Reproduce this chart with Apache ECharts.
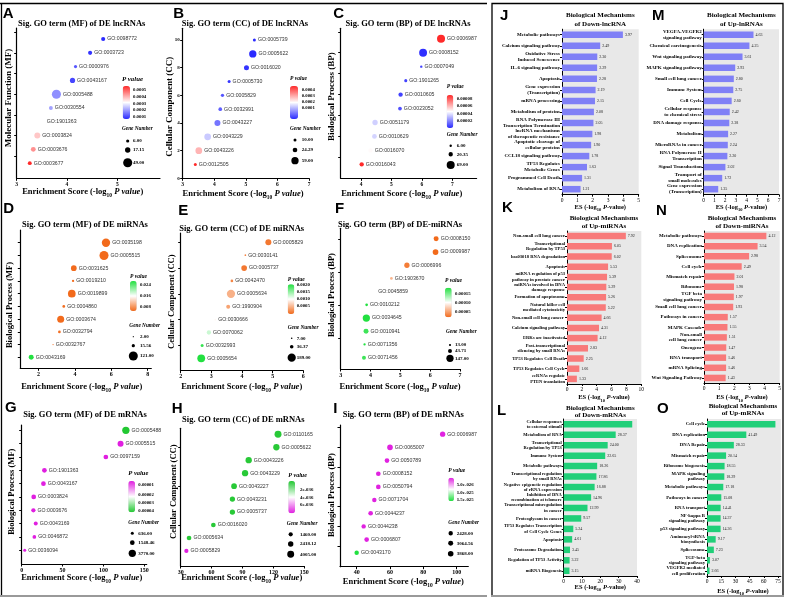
<!DOCTYPE html>
<html><head><meta charset="utf-8">
<script src="https://cdn.jsdelivr.net/npm/echarts@6/dist/echarts.min.js"></script>
<style>html,body{margin:0;padding:0;background:#fff;}#chart{width:787px;height:601px;}</style>
</head><body><div id="chart"></div>
<script>
// ================= DATA =================
const A_terms = ['GO:0098772','GO:0003723','GO:0000976','GO:0043167','GO:0005488','GO:0030554','GO:1901363','GO:0003824','GO:0003676','GO:0003677'];
const A_es = [4.72,4.46,4.17,4.11,3.79,3.68,3.50,3.41,3.33,3.26];
const A_genes = [10,10,6,16,49,9,21,21,14,9];
const A_p = [0.00007,0.00008,0.00012,0.0001,0.00018,0.0002,0.0003,0.00036,0.00042,0.00053];
const A_pLeg = ['0.0005','0.0004','0.0003','0.0002','0.0001'];
const A_gLeg = [6.00,17.15,49.00];

const B_terms = ['GO:0005739','GO:0005622','GO:0016020','GO:0005730','GO:0005829','GO:0032991','GO:0043227','GO:0043229','GO:0043226','GO:0012505'];
const B_es = [5.27,5.22,5.02,4.47,4.26,4.19,4.10,3.79,3.51,3.40];
const B_genes = [10,59,28,10,12,15,40,50,50,10];
const B_p = [0.00003,0.00003,0.00004,0.00004,0.00007,0.00008,0.0001,0.00018,0.0003,0.00043];
const B_pLeg = ['0.0004','0.0003','0.0002','0.0001'];
const B_gLeg = [10.00,24.29,59.00];

const C_terms = ['GO:0006987','GO:0008152','GO:0007049','GO:1901265','GO:0010605','GO:0023052','GO:0051179','GO:0010629','GO:0016070','GO:0016043'];
const C_es = [6.63,6.04,5.98,5.47,5.30,5.28,4.46,4.44,4.31,4.02];
const C_genes = [69,66,6,10,20,15,30,24,20,20];
const C_p = [0.00009,0.000001,0.000005,0.000005,0.000005,0.000008,0.000035,0.000036,0.000046,0.00009];
const C_pLeg = ['0.00008','0.00006','0.00004','0.00002'];
const C_gLeg = [6.00,20.35,69.00];

const D_terms = ['GO:0035198','GO:0005515','GO:0031625','GO:0019210','GO:0019899','GO:0004860','GO:0003674','GO:0032794','GO:0032767','GO:0043169'];
const D_es = [5.71,5.60,3.94,3.90,3.83,3.39,3.22,3.15,2.80,1.60];
const D_genes = [103,121,48,8,88,11,73,11,2,37];
const D_p = [0.0045,0.0045,0.0046,0.0047,0.0045,0.0048,0.0046,0.0049,0.005,0.027];
const D_pLeg = ['0.024','0.016','0.008'];
const D_gLeg = [2.00,15.56,121.00];

const E_terms = ['GO:0005829','GO:0030141','GO:0005737','GO:0042470','GO:0005634','GO:1990904','GO:0030666','GO:0070062','GO:0032993','GO:0005654'];
const E_es = [4.86,4.11,4.07,3.67,3.64,3.55,3.13,2.92,2.70,2.67];
const E_genes = [100,8,90,20,189,44,8,52,25,170];
const E_p = [0.0001,0.0002,0.0001,0.0002,0.0005,0.0004,0.001,0.0013,0.002,0.0021];
const E_pLeg = ['0.0020','0.0015','0.0010','0.0005'];
const E_gLeg = [7.00,36.37,189.00];

const F_terms = ['GO:0008150','GO:0009987','GO:0006996','GO:1903670','GO:0045859','GO:0010212','GO:0034645','GO:0010941','GO:0071356','GO:0071456'];
const F_es = [6.20,6.18,5.22,4.70,4.12,3.87,3.86,3.85,3.80,3.78];
const F_genes = [69,90,78,20,51,20,147,69,15,44];
const F_p = [0.00002,0.00002,0.00003,0.00006,0.0001,0.00018,0.00018,0.00017,0.00018,0.00017];
const F_pLeg = ['0.00015','0.00010','0.00005'];
const F_gLeg = [13.00,43.71,147.00];

const G_terms = ['GO:0005488','GO:0005515','GO:0097159','GO:1901363','GO:0043167','GO:0003824','GO:0003676','GO:0043169','GO:0046872','GO:0036094'];
const G_es = [127.5,121,103,27.8,26.6,14.7,14.3,17.2,15.5,3.7];
const G_genes = [3770,2540,1560,1560,1560,1560,1300,1130,970,636];
const G_p = [0.000042,0.000005,0.000005,0.000005,0.000005,0.000005,0.000005,0.000005,0.000005,0.000005];
const G_pLeg = ['0.00001','0.00002','0.00003','0.00004'];
const G_gLeg = [636.00,1548.46,3770.00];

const H_terms = ['GO:0110165','GO:0005622','GO:0043226','GO:0043229','GO:0043227','GO:0043231','GO:0005737','GO:0016020','GO:0005634','GO:0005829'];
const H_es = [124.5,122.9,96.0,92.5,81.8,80.2,80.2,61.7,38.1,35.5];
const H_genes = [4005,3300,3300,3300,2680,2330,2330,1800,1800,1460];
const H_p = [1e-37,1e-37,1e-37,1e-37,1e-37,1e-37,1e-37,1e-37,1e-37,8e-36];
const H_pLeg = ['2e-036','4e-036','6e-036'];
const H_gLeg = [1460.00,2418.12,4005.00];

const I_terms = ['GO:0006987','GO:0065007','GO:0050789','GO:0008152','GO:0050794','GO:0071704','GO:0044237','GO:0044238','GO:0006807','GO:0043170'];
const I_es = [91.6,60.0,58.2,53.0,53.0,50.6,48.4,44.2,46.0,40.0];
const I_genes = [3470,3868,2700,2700,2700,2428,2700,2428,2700,2428];
const I_p = [1e-27,1e-27,1e-27,1e-27,1e-27,1e-27,1e-27,1e-27,1e-27,1.62e-25];
const I_pLeg = ['5.0e-026','1.0e-025','1.5e-025'];
const I_gLeg = [2428.00,3064.56,3868.00];

const J_terms = ['Metabolic pathways','Calcium signaling pathway','Oxidative Stress\nInduced Senescence','IL-6 signaling pathway','Apoptosis','Gene expression\n(Transcription)','mRNA processing','Metabolism of proteins','RNA Polymerase III\nTranscription Termination','lncRNA mechanisms\nof therapeutic resistance','Apoptotic cleavage of\ncellular proteins','CCL18 signaling pathway','TP53 Regulates\nMetabolic Genes','Programmed Cell Death','Metabolism of RNA'];
const J_es = [3.97,2.49,2.30,2.29,2.28,2.19,2.15,2.08,2.05,1.98,1.90,1.78,1.63,1.31,1.21];

const M_terms = ['VEGFA-VEGFR2\nsignaling pathway','Chemical carcinogenesis','Wnt signaling pathway','MAPK signaling pathway','Small cell lung cancer','Immune System','Cell Cycle','Cellular response\nto chemical stress','DNA damage response','Metabolism','MicroRNAs in cancer','RNA Polymerase II\nTranscription','Signal Transduction','Transport of\nsmall molecules','Gene expression\n(Transcription)'];
const M_es = [4.63,4.25,3.61,2.93,2.80,2.75,2.60,2.42,2.38,2.27,2.24,2.20,2.02,1.72,1.35];

const K_terms = ['Non-small cell lung cancer','Transcriptional\nRegulation by TP53','hsa03018 RNA degradation','Apoptosis','miRNA regulation of p53\npathway in prostate cancer','miRNAs involved in DNA\ndamage response','Formation of apoptosome','Natural killer cell\nmediated cytotoxicity','Non-small cell lung cancer ','Calcium signaling pathway','ERKs are inactivated','Post-transcriptional\nsilencing by small RNAs','TP53 Regulates Cell Death','TP53 Regulates Cell Cycle','ceRNAs regulate\nPTEN translation'];
const K_es = [7.92,6.05,6.02,5.53,5.39,5.29,5.26,5.22,4.66,4.31,4.12,2.83,2.25,1.66,1.33];

const N_terms = ['Metabolic pathways','DNA replication','Spliceosome','Cell cycle','Mismatch repair','Ribosome','TGF beta\nsignaling pathway','Small cell lung cancer','Pathways in cancer','MAPK Cascade','Non-small\ncell lung cancer','Oncogene','RNA transport','mRNA Splicing','Wnt Signaling Pathway'];
const N_es = [4.12,3.54,2.98,2.49,2.01,1.98,1.97,1.93,1.57,1.55,1.51,1.47,1.46,1.46,1.43];

const L_terms = ['Cellular responses\nto external stimuli','Metabolism of RNA','Transcriptional\nRegulation by TP53','Immune System','Metabolic pathways','Transcriptional regulation\nby small RNAs','Negative epigenetic regulation\nof rRNA expression','Inhibition of DNA\nrecombination at telomere','Transcriptional misregulation\nin cancer','Proteoglycans in cancer','TP53 Regulates Transcription\nof Cell Cycle Genes','Apoptosis','Proteasome Degradation','Regulation of TP53 Activity','miRNA Biogenesis'];
const L_es = [37.4,28.37,24.00,22.65,18.26,17.86,16.88,14.96,12.99,9.57,5.24,4.61,3.45,3.22,3.15];

const O_terms = ['Cell cycle','DNA replication','DNA Repair','Mismatch repair','Ribosome biogenesis','MAPK signaling\npathway','Metabolic pathways','Pathways in cancer','RNA transport','NF-kappa B\nsignaling pathway','p53 signaling pathway','Aminoacyl-tRNA\nbiosynthesis','Spliceosome','TGF-beta\nsignaling pathway','VEGFR2 mediated\ncell proliferation'];
const O_es = [72.2,41.49,28.33,20.14,18.55,18.29,17.18,15.08,14.41,14.37,14.36,9.17,7.23,3.07,2.66];

// ================= STYLE / LAYOUT =================
const SER = 'Liberation Serif', SANS = 'Liberation Sans';
const C_BLUE='#2a2aff', C_RED='#ff2a2a', C_OR='#f26a1b', C_GR='#22e040', C_MAG='#e01fe0', C_GR2='#22c832';
const C_PER='#8080f6', C_SAL='#f87a7a', C_GRN='#20cf78';
const T15 = [1.5,3,4.5,6,7.5,9,10.5], T1 = [1,2,3,4,5,6,7,8,9,10];

const SC = [
 {L:'A',lx:2.7,ly:6,title:'Sig. GO term (MF) of DE lncRNAs',tx:81.7,ty:23.3,yt:'Molecular Function (MF)',ytx:9,yty:98,xtx:82.7,xty:193,
  g:{left:16.7,top:28,width:143.3,height:150.3},xMin:3,xMax:5.85,xT:[3,4,5],yMin:-0.1,yMax:10.8,yT:T15,yLab:false,k:1.3,
  terms:A_terms,es:A_es,genes:A_genes,p:A_p,pLeg:A_pLeg,gLeg:A_gLeg,
  vm:{min:0.00007,max:0.00053,inv:false,colors:[C_BLUE,'#ffffff',C_RED],x:122.7,y:86,w:7.3,h:33},
  pt:{x:122,y:79,fs:6.8},pl:{x:133,ys:[90,96.7,103.3,110,116.7]},gt:{x:122,y:129},gl:{cx:127.7,lx:133,ys:[141,150,162.7]}},
 {L:'B',lx:173.3,ly:6,title:'Sig. GO term (CC) of DE lncRNAs',tx:245,ty:23.3,yt:'Cellular Component (CC)',ytx:170,yty:106.7,xtx:243,xty:195,
  g:{left:182.7,top:28.3,width:126.3,height:150},xMin:3,xMax:7,xT:[3,4,5,6,7],yMin:0,yMax:10.85,yT:[0,2,4,6,8,10],yLab:true,k:0.95,
  terms:B_terms,es:B_es,genes:B_genes,p:B_p,pLeg:B_pLeg,gLeg:B_gLeg,
  vm:{min:0.00003,max:0.00043,inv:false,colors:[C_BLUE,'#ffffff',C_RED],x:290,y:86,w:8,h:33},
  pt:{x:290,y:79,fs:5.5},pl:{x:301.7,ys:[89.3,95.3,101.7,107.7]},gt:{x:290,y:129},gl:{cx:295,lx:301.7,ys:[140,150,160.7]}},
 {L:'C',lx:333.3,ly:6,title:'Sig. GO term (BP) of DE lncRNAs',tx:408,ty:23.3,yt:'Biological Process (BP)',ytx:331.7,yty:96.7,xtx:401.7,xty:195,
  g:{left:340.7,top:28.3,width:135.9,height:150},xMin:3.33,xMax:7.8,xT:[4,5,6,7],yMin:0,yMax:10.75,yT:T15,yLab:false,k:0.97,
  terms:C_terms,es:C_es,genes:C_genes,p:C_p,pLeg:C_pLeg,gLeg:C_gLeg,
  vm:{min:0,max:0.00009,inv:false,colors:[C_BLUE,'#ffffff',C_RED],x:446.7,y:95,w:6.6,h:33},
  pt:{x:446.7,y:87,fs:5.5},pl:{x:456.7,ys:[98.7,106,113.3,120.7]},gt:{x:446.7,y:135},gl:{cx:450.7,lx:456.7,ys:[145.7,154.3,165]}},
 {L:'D',lx:3.3,ly:201,title:'Sig. GO term (MF) of DE miRNAs',tx:85,ty:224.3,yt:'Biological Process (MF)',ytx:10,yty:305,xtx:81.7,xty:387.7,
  g:{left:20.3,top:230,width:131,height:138.3},xMin:1,xMax:8.2,xT:[2,4,6,8],yMin:0.14,yMax:11,yT:T1,yLab:false,k:0.82,
  terms:D_terms,es:D_es,genes:D_genes,p:D_p,pLeg:D_pLeg,gLeg:D_gLeg,
  vm:{min:0.0045,max:0.027,inv:false,colors:[C_OR,'#ffffff',C_GR],x:130,y:281,w:6.7,h:30},
  pt:{x:130,y:276.7,fs:5.5},pl:{x:140,ys:[285,295.7,306.3]},gt:{x:129.3,y:326},gl:{cx:133.3,lx:140,ys:[336.7,345.7,356]}},
 {L:'E',lx:178.3,ly:203,title:'Sig. GO term (CC) of DE miRNAs',tx:241.7,ty:228.3,yt:'Cellular Component (CC)',ytx:171.7,yty:301.7,xtx:241.7,xty:387.7,
  g:{left:180.7,top:233,width:122.6,height:137.7},xMin:2,xMax:6,xT:[2,3,4,5,6],yMin:0.04,yMax:10.72,yT:[2,4,6,8,10],yLab:false,k:0.6,
  terms:E_terms,es:E_es,genes:E_genes,p:E_p,pLeg:E_pLeg,gLeg:E_gLeg,
  vm:{min:0,max:0.0021,inv:false,colors:[C_OR,'#ffffff',C_GR],x:287.7,y:284.3,w:6.6,h:29.7},
  pt:{x:287.7,y:280,fs:5.5},pl:{x:296.7,ys:[285,292,298.7,306]},gt:{x:287.7,y:327.7},gl:{cx:291.7,lx:296.7,ys:[338.3,346.7,357.7]}},
 {L:'F',lx:335,ly:201,title:'Sig. GO term (BP) of DE-miRNAs',tx:400,ty:224.3,yt:'Biological Process (BP)',ytx:331.7,yty:295,xtx:400,xty:387.7,
  g:{left:340.7,top:228.3,width:119.3,height:140.7},xMin:3,xMax:7,xT:[3,4,5,6,7],yMin:0.14,yMax:10.8,yT:[2.5,5,7.5,10],yLab:false,k:0.6,
  terms:F_terms,es:F_es,genes:F_genes,p:F_p,pLeg:F_pLeg,gLeg:F_gLeg,
  vm:{min:0.00002,max:0.00018,inv:false,colors:[C_OR,'#ffffff',C_GR],x:445,y:287.7,w:6.7,h:29.6},
  pt:{x:445,y:281,fs:5.5},pl:{x:455,ys:[293.3,302.7,311.7]},gt:{x:446,y:331.7},gl:{cx:450,lx:455,ys:[345,351,358.3]}},
 {L:'G',lx:5,ly:400,title:'Sig. GO term (MF) of DE mRNAs',tx:85,ty:415,yt:'Biological Process (MF)',ytx:11.7,yty:491.7,xtx:81.7,xty:579.3,
  g:{left:21.7,top:425,width:125,height:139},xMin:0,xMax:153,xT:[0,50,100,150],yMin:-0.03,yMax:10.4,yT:T1,yLab:false,k:0.119,
  terms:G_terms,es:G_es,genes:G_genes,p:G_p,pLeg:G_pLeg,gLeg:G_gLeg,
  vm:{min:0.000005,max:0.000042,inv:true,colors:[C_MAG,'#ffffff',C_GR2],x:128.3,y:481,w:6.7,h:31.3},
  pt:{x:128.3,y:473,fs:6.5},pl:{x:138.3,ys:[485,494.3,502.7,510.7]},gt:{x:128.3,y:522.7},gl:{cx:132.3,lx:138.3,ys:[533.3,542.7,553.3]}},
 {L:'H',lx:171.7,ly:401,title:'Sig. GO term (CC) of DE mRNAs',tx:243.3,ty:420,yt:'Cellular Component (CC)',ytx:173.3,yty:491.7,xtx:241.7,xty:579.3,
  g:{left:180.7,top:428.3,width:123.6,height:137.7},xMin:30,xMax:150,xT:[30,60,90,120,150],yMin:-0.16,yMax:10.46,yT:[3,6,9],yLab:false,k:0.11,
  terms:H_terms,es:H_es,genes:H_genes,p:H_p,pLeg:H_pLeg,gLeg:H_gLeg,
  vm:{min:0,max:8e-36,inv:true,colors:[C_GR2,'#ffffff',C_MAG],x:288.3,y:481,w:6.7,h:32.3},
  pt:{x:288.3,y:475,fs:6},pl:{x:300,ys:[490,497.7,505]},gt:{x:286.7,y:523.3},gl:{cx:290.7,lx:300,ys:[534.3,544,554.3]}},
 {L:'I',lx:333.3,ly:401,title:'Sig. GO term (BP) of DE mRNAs',tx:403.3,ty:415,yt:'Biological Process (BP)',ytx:331.7,yty:495,xtx:403.3,xty:582.7,
  g:{left:340,top:425,width:128.3,height:141.7},xMin:30,xMax:107,xT:[40,60,80,100],yMin:-0.06,yMax:10.7,yT:T15,yLab:false,k:0.09,
  terms:I_terms,es:I_es,genes:I_genes,p:I_p,pLeg:I_pLeg,gLeg:I_gLeg,
  vm:{min:0,max:1.62e-25,inv:true,colors:[C_MAG,'#ffffff',C_GR],x:448.3,y:477.7,w:5.7,h:23.3},
  pt:{x:448.3,y:471,fs:5.5},pl:{x:456.7,ys:[485,492.7,499.3]},gt:{x:448.3,y:522.7},gl:{cx:450.7,lx:456.7,ys:[533.3,543.3,553.7]}}
];

const BP = [
 {L:'J',lx:500,ly:8,terms:J_terms,es:J_es,color:C_PER,g:{left:562,top:29.2,width:76.7,height:165.5},xMax:5,xT:[0,1,2,3,4,5],t2:'of Down-lncRNA',tx:600.3,ty1:15,ty2:24,aty:208.3,lfs:5,llh:6},
 {L:'M',lx:652,ly:8,terms:M_terms,es:M_es,color:C_PER,g:{left:703.7,top:29.2,width:75.3,height:165.5},xMax:7,xT:[0,1,2,3,4,5,6,7],t2:'of Up-lnRNAs',tx:741.4,ty1:15,ty2:24,aty:208.3,lfs:5,llh:6},
 {L:'K',lx:502,ly:200,terms:K_terms,es:K_es,color:C_SAL,g:{left:567,top:231,width:74.3,height:153},xMax:10,xT:[0,2,4,6,8,10],t2:'of Up-miRNAs',tx:604,ty1:218.3,ty2:225.7,aty:398.5,lfs:4.6,llh:5.5},
 {L:'N',lx:656,ly:203,terms:N_terms,es:N_es,color:C_SAL,g:{left:704,top:231,width:75.7,height:152},xMax:5,xT:[0,1,2,3,4,5],t2:'of Down-miRNAs',tx:742,ty1:218.3,ty2:225.7,aty:398.5,lfs:5,llh:5.5},
 {L:'L',lx:497,ly:403,terms:L_terms,es:L_es,color:C_GRN,g:{left:563.7,top:419,width:73.3,height:157},xMax:40,xT:[0,10,20,30,40],t2:'of Down-mRNAs',tx:600.3,ty1:408.3,ty2:415.5,aty:588,lfs:4.5,llh:5.3},
 {L:'O',lx:657,ly:401,terms:O_terms,es:O_es,color:C_GRN,g:{left:707,top:419,width:73.9,height:157},xMax:78,xT:[0,15,30,45,60,75],t2:'of Up-mRNAs',tx:743,ty1:406,ty2:413.5,aty:592,lfs:4.7,llh:5.3}
];

// ================= BUILD =================
const GR = [];
function txt(x, y, text, font, align, va, rot) {
  GR.push({type:'text', x:x, y:y, rotation:rot||0, z:50, silent:true,
    style:{text:text, font:font, fill:'#000', align:align||'center', verticalAlign:va||'middle'}});
}
function rtxt(x, y, text, rich) {
  GR.push({type:'text', x:x, y:y, z:50, silent:true,
    style:{text:text, rich:rich, fill:'#000', align:'center', verticalAlign:'middle'}});
}
function subRich(fs, sfs, pad) {
  return {
    b:{fontFamily:SER, fontWeight:'bold', fontSize:fs, verticalAlign:'bottom', padding:[0,0,pad,0], fill:'#000'},
    s:{fontFamily:SER, fontWeight:'bold', fontSize:sfs, verticalAlign:'bottom', fill:'#000'},
    i:{fontFamily:SER, fontWeight:'bold', fontStyle:'italic', fontSize:fs, verticalAlign:'bottom', padding:[0,0,pad,0], fill:'#000'}
  };
}
const fSer = (fs, st) => (st||'bold') + ' ' + fs + 'px "' + SER + '"';

const option = {animation:false, backgroundColor:'#ffffff', grid:[], xAxis:[], yAxis:[], series:[], visualMap:[], graphic:GR};

SC.forEach((d, i) => {
  option.grid.push(Object.assign({outerBoundsMode:'none', containLabel:false}, d.g));
  option.xAxis.push({gridIndex:i, type:'value', min:d.xMin, max:d.xMax,
    axisLine:{show:true, onZero:false, lineStyle:{color:'#000', width:1.2}},
    axisTick:{show:true, customValues:d.xT, length:2.5, lineStyle:{color:'#000', width:1}},
    axisLabel:{show:true, customValues:d.xT, margin:3, color:'#000', fontFamily:SER, fontWeight:'bold', fontSize:i<3?5.5:6},
    splitLine:{show:false}});
  option.yAxis.push({gridIndex:i, type:'value', min:d.yMin, max:d.yMax,
    axisLine:{show:true, onZero:false, lineStyle:{color:'#000', width:1.2}},
    axisTick:{show:true, customValues:d.yT, length:2.5, lineStyle:{color:'#000', width:1}},
    axisLabel:{show:d.yLab, customValues:d.yT, margin:3, color:'#000', fontFamily:SER, fontWeight:'bold', fontSize:5},
    splitLine:{show:false}});
  const n = d.terms.length, k = d.k;
  option.series.push({type:'scatter', xAxisIndex:i, yAxisIndex:i,
    data:d.terms.map((t, j) => [d.es[j], n - j, d.p[j], d.genes[j], t]),
    symbolSize:v => k * Math.sqrt(v[3]),
    itemStyle:{opacity:1}, emphasis:{disabled:true},
    label:{show:true, position:'right', distance:2, formatter:p => p.value[4], fontFamily:SANS, fontSize:5.2, color:'#333'}});
  option.visualMap.push({type:'continuous', seriesIndex:i, dimension:2, min:d.vm.min, max:d.vm.max, inverse:d.vm.inv,
    inRange:{color:d.vm.colors}, left:d.vm.x, top:d.vm.y, itemWidth:d.vm.w, itemHeight:d.vm.h,
    padding:0, calculable:false, orient:'vertical', hoverLink:false, realtime:false});
  // texts
  txt(d.lx, d.ly, d.L, 'bold 15px "' + SANS + '"', 'left', 'top');
  txt(d.tx, d.ty, d.title, fSer(8.5));
  txt(d.ytx, d.yty, d.yt, fSer(i<3?9:8.5), 'center', 'middle', Math.PI/2);
  rtxt(d.xtx, d.xty, '{b|Enrichment Score (-log}{s|10}{b| }{i|P value}{b|)}', subRich(8.5, 5.5, 2.2));
  // P value legend
  txt(d.pt.x, d.pt.y, 'P value', fSer(d.pt.fs, 'italic bold'), 'left');
  d.pLeg.forEach((s, j) => txt(d.pl.x, d.pl.ys[j], s, fSer(4.8), 'left'));
  // Gene number legend
  txt(d.gt.x, d.gt.y, 'Gene Number', fSer(5.3, 'italic bold'), 'left');
  d.gLeg.forEach((v, j) => {
    GR.push({type:'circle', z:50, silent:true, shape:{cx:d.gl.cx, cy:d.gl.ys[j], r:k*Math.sqrt(v)/2}, style:{fill:'#000'}});
    txt(d.gl.lx, d.gl.ys[j], v.toFixed(2), fSer(5), 'left');
  });
});

BP.forEach((d, j) => {
  const gi = SC.length + j;
  option.grid.push(Object.assign({outerBoundsMode:'none', containLabel:false, show:true, backgroundColor:'#e8e8e8', borderWidth:0}, d.g));
  option.xAxis.push({gridIndex:gi, type:'value', min:0, max:d.xMax,
    axisLine:{show:true, onZero:false, lineStyle:{color:'#000', width:1}},
    axisTick:{show:true, customValues:d.xT, length:2, lineStyle:{color:'#000', width:1}},
    axisLabel:{customValues:d.xT, margin:2.5, color:'#000', fontFamily:SER, fontSize:5.5},
    splitLine:{show:false}});
  option.yAxis.push({gridIndex:gi, type:'category', inverse:true, data:d.terms,
    axisLine:{show:true, onZero:false, lineStyle:{color:'#000', width:1}},
    axisTick:{show:true, alignWithLabel:true, length:2, lineStyle:{color:'#000', width:1}},
    axisLabel:{interval:0, margin:2, color:'#000', fontFamily:SER, fontWeight:'bold', fontSize:d.lfs, lineHeight:d.llh, align:'right'},
    splitLine:{show:false}});
  const xm = d.xMax;
  option.series.push({type:'bar', xAxisIndex:gi, yAxisIndex:gi, data:d.es, barWidth:6.5,
    itemStyle:{color:d.color}, emphasis:{disabled:true},
    label:{show:true, position:'right', distance:2, fontFamily:SER, fontSize:4, color:'#222',
      formatter:p => (p.value > 0.9 * xm ? '' : p.value.toFixed(2))}});
  txt(d.lx, d.ly, d.L, 'bold 15px "' + SANS + '"', 'left', 'top');
  txt(d.tx, d.ty1, 'Biological Mechanisms', fSer(7));
  txt(d.tx, d.ty2, d.t2, fSer(7));
  rtxt(d.tx, d.aty, '{b|ES (-log}{s|10}{b| }{i|P}{b|-value)}', subRich(6.5, 4.5, 1.8));
});

// frames
GR.push({type:'line', z:60, silent:true, shape:{x1:0, y1:3.5, x2:487, y2:3.5}, style:{stroke:'#000', lineWidth:1.3}});
GR.push({type:'line', z:60, silent:true, shape:{x1:1.5, y1:3, x2:1.5, y2:596}, style:{stroke:'#000', lineWidth:1.3}});
GR.push({type:'line', z:60, silent:true, shape:{x1:0, y1:596, x2:487, y2:596}, style:{stroke:'#999', lineWidth:2}});
GR.push({type:'rect', z:60, silent:true, shape:{x:492, y:3.5, width:291, height:592.5}, style:{fill:null, stroke:'#000', lineWidth:1.3}});
GR.push({type:'line', z:61, silent:true, shape:{x1:491, y1:596, x2:784, y2:596}, style:{stroke:'#999', lineWidth:2}});

const chart = echarts.init(document.getElementById('chart'), null, {renderer:'canvas'});
chart.setOption(option);
</script></body></html>
